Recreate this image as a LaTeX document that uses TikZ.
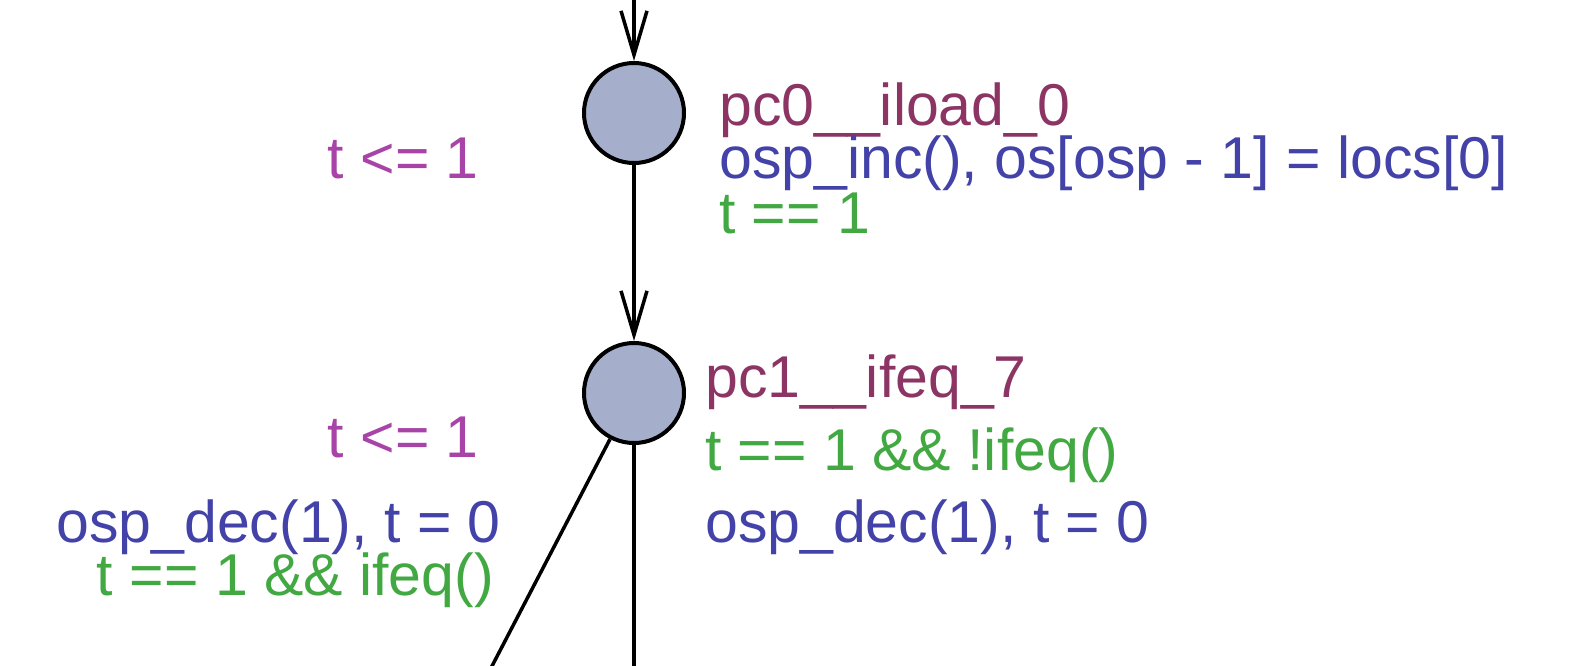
\documentclass[tikz,border=0pt]{standalone}
\usepackage{fontspec}
\setmainfont{Liberation Sans}
\usetikzlibrary{arrows.meta}
\definecolor{locfill}{RGB}{165,174,203}
\definecolor{namecol}{RGB}{140,52,100}
\definecolor{invcol}{RGB}{168,68,168}
\definecolor{guardcol}{RGB}{66,168,66}
\definecolor{updcol}{RGB}{66,66,168}
\begin{document}
\begin{tikzpicture}[x=1pt,y=-1pt,
  loc/.style={circle,draw=black,line width=4pt,fill=locfill,minimum size=100pt,inner sep=0pt},
  edge/.style={draw=black,line width=3.5pt},
  arr/.style={edge,-{Straight Barb[length=44pt,width=26pt,line width=3.5pt]}},
  lbl/.style={inner sep=0pt,font=\fontsize{59}{60}\selectfont},
  lw/.style={lbl,anchor=base west},
  le/.style={lbl,anchor=base east}]
\useasboundingbox (0,0) rectangle (1575,665);
\node[loc] (s0) at (634,113) {};
\node[loc] (s1) at (634,393) {};
\coordinate (top) at (634,0);
\coordinate (b1) at (634,668);
\coordinate (b2) at (491,668);
\draw[arr] (top) -- (s0);
\draw[arr] (s0) -- (s1);
\draw[edge] (s1) -- (b1);
\draw[edge] (s1) -- (b2);
% state 0 labels
\node[le,text=invcol] (inv0) at (479,178) {t <= 1};
\node[lw,text=namecol] (n0) at (719,125) {pc0\_\_iload\_0};
\node[lw,text=updcol] (u0) at (719,178) {osp\_inc(), os[osp - 1] = locs[0]};
\node[lw,text=guardcol] (g0) at (719,233) {t == 1};
% state 1 labels
\node[le,text=invcol] (inv1) at (479,457) {t <= 1};
\node[lw,text=namecol] (n1) at (705,397) {pc1\_\_ifeq\_7};
\node[lw,text=guardcol] (g1) at (705,470) {t == 1 \&\& !ifeq()};
\node[lw,text=updcol] (u1) at (705,542) {osp\_dec(1), t = 0};
\node[le,text=updcol] (u2) at (501,542) {osp\_dec(1), t = 0};
\node[le,text=guardcol] (g2) at (494,595) {t == 1 \&\& ifeq()};
\end{tikzpicture}
\end{document}
